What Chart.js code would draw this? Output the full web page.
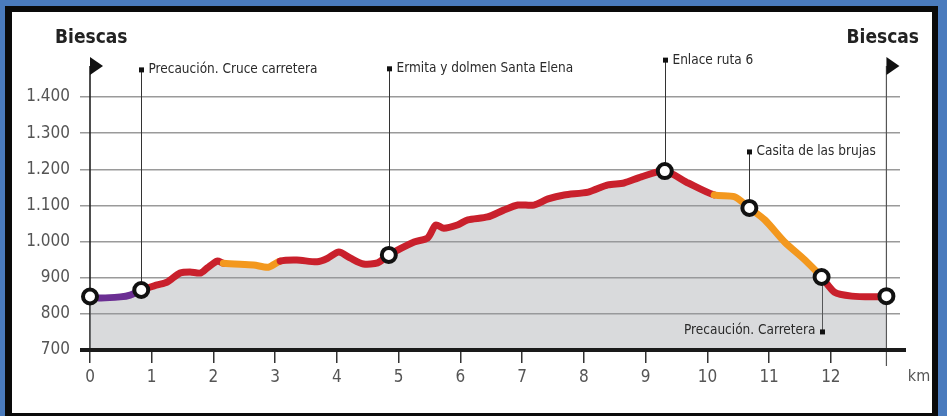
<!DOCTYPE html>
<html>
<head>
<meta charset="utf-8">
<script src="https://cdn.jsdelivr.net/npm/chart.js@4.4.1/dist/chart.umd.min.js"></script>
<style>
  html, body { margin:0; padding:0; width:947px; height:416px; overflow:hidden; background:#4a7bbd; }
  #frame { position:absolute; left:5px; top:6px; width:920px; height:401px; background:#fff;
           border-style:solid; border-color:#0a0a0a; border-width:6px 6px 3px 7px; }
  #c { position:absolute; left:0; top:0; }
</style>
</head>
<body>
<div id="frame"></div>
<canvas id="c" width="947" height="416"></canvas>
<script>
// ---- data ----
const kmValues = [0, 0.16, 0.49, 0.65, 0.83, 1.09, 1.25, 1.46, 1.62, 1.79, 1.9, 2.06, 2.16, 2.65, 2.89, 3.08,
  3.35, 3.68, 3.85, 4.03, 4.22, 4.43, 4.66, 4.84, 5.25, 5.47, 5.6, 5.73, 5.95, 6.12, 6.44, 6.7, 6.93, 7.19,
  7.42, 7.68, 8.07, 8.39, 8.65, 8.93, 9.31, 9.69, 10.11, 10.44, 10.68, 10.93, 11.25, 11.58, 11.85, 12.06,
  12.34, 12.66, 12.9];
const elevations = [848, 844, 847, 852, 866, 880, 888, 913, 916, 913, 927, 946, 940, 935, 929, 946,
  949, 944, 954, 971, 954, 938, 941, 963, 999, 1010, 1046, 1037, 1046, 1060, 1068, 1087, 1101, 1101,
  1118, 1129, 1137, 1157, 1162, 1179, 1195, 1162, 1129, 1124, 1093, 1060, 999, 949, 902, 860,
  849, 847, 849];
const sectionStartKm = [0, 0.83, 2.16, 3.08, 10.11, 11.85];
const sectionColors = ['#6b2f93', '#c9202c', '#f3981e', '#c9202c', '#f3981e', '#c9202c'];
const waypointKm = [0, 0.83, 4.84, 9.31, 10.68, 11.85, 12.9];
const waypointElev = [848, 866, 963, 1195, 1093, 902, 849];
const xTicks = [0,1,2,3,4,5,6,7,8,9,10,11,12];
const yTicks = [700, 800, 900, 1000, 1100, 1200, 1300, 1400];
const annotationKm = [0.83, 4.84, 9.31, 10.68, 11.85];
const annotationLabels = ['Precaución. Cruce carretera', 'Ermita y dolmen Santa Elena', 'Enlace ruta 6',
  'Casita de las brujas', 'Precaución. Carretera'];
const endLabels = ['Biescas', 'Biescas'];
const endKm = [0, 12.9];
const unitLabel = 'km';

// label placement (in elevation units so it follows the y scale)
const annotationLabelElev = [1475, 1478, 1502, 1248, 750];
const annotationBelow = [false, false, false, false, true];

const FONT = '"Liberation Sans Narrow", "DejaVu Sans Condensed", "Roboto Condensed", sans-serif';

function fmtThousands(v) {
  if (v >= 1000) return Math.floor(v / 1000) + '.' + String(v % 1000).padStart(3, '0');
  return String(v);
}
function sectionColor(x) {
  let c = sectionColors[0];
  for (let i = 0; i < sectionStartKm.length; i++) if (x >= sectionStartKm[i] - 1e-6) c = sectionColors[i];
  return c;
}

const profile = kmValues.map((k, i) => ({ x: k, y: elevations[i] }));
const waypoints = waypointKm.map((k, i) => ({ x: k, y: waypointElev[i] }));

const decor = {
  id: 'decor',
  beforeDatasetsDraw(chart) {
    const { ctx, scales: { x, y } } = chart;
    ctx.save();
    ctx.strokeStyle = '#222'; ctx.lineWidth = 1.6;
    ctx.beginPath(); ctx.moveTo(x.getPixelForValue(endKm[0]), y.getPixelForValue(1486));
    ctx.lineTo(x.getPixelForValue(endKm[0]), y.getPixelForValue(700)); ctx.stroke();
    ctx.strokeStyle = '#555'; ctx.lineWidth = 1.2;
    ctx.beginPath(); ctx.moveTo(x.getPixelForValue(endKm[1]), y.getPixelForValue(1486));
    ctx.lineTo(x.getPixelForValue(endKm[1]), y.getPixelForValue(700) + 16); ctx.stroke();
    ctx.strokeStyle = '#333'; ctx.lineWidth = 1;
    annotationKm.forEach((k, i) => {
      const px = Math.round(x.getPixelForValue(k)) + 0.5;
      const wi = waypointKm.indexOf(k);
      const ly = y.getPixelForValue(annotationLabelElev[i]);
      const my = y.getPixelForValue(waypointElev[wi]);
      ctx.beginPath(); ctx.moveTo(px, ly); ctx.lineTo(px, my); ctx.stroke();
    });
    ctx.restore();
  },
  afterDatasetsDraw(chart) {
    const { ctx, chartArea, scales: { y } } = chart;
    ctx.save();
    ctx.strokeStyle = '#1a1a1a'; ctx.lineWidth = 4;
    const by = y.getPixelForValue(700);
    ctx.beginPath(); ctx.moveTo(chartArea.left, by); ctx.lineTo(chartArea.right + 6, by); ctx.stroke();
    ctx.restore();
  },
  afterDraw(chart) {
    const { ctx, scales: { x, y } } = chart;
    ctx.save();
    ctx.font = '13.5px ' + FONT;
    ctx.textBaseline = 'middle';
    annotationKm.forEach((k, i) => {
      const px = Math.round(x.getPixelForValue(k)) + 0.5;
      const ly = y.getPixelForValue(annotationLabelElev[i]);
      ctx.fillStyle = '#111';
      ctx.fillRect(px - 2.5, ly - 2.5, 5, 5);
      ctx.fillStyle = '#2a2a2a';
      if (annotationBelow[i]) {
        ctx.textAlign = 'right';
        ctx.fillText(annotationLabels[i], px - 7, ly - 1);
      } else {
        ctx.textAlign = 'left';
        ctx.fillText(annotationLabels[i], px + 7, ly);
      }
    });
    ctx.fillStyle = '#111';
    endKm.forEach(k => {
      const px = x.getPixelForValue(k);
      const ty = y.getPixelForValue(1486);
      ctx.beginPath(); ctx.moveTo(px, ty - 9); ctx.lineTo(px + 13, ty); ctx.lineTo(px, ty + 9); ctx.closePath(); ctx.fill();
    });
    ctx.font = 'bold 19px ' + FONT;
    ctx.fillStyle = '#222';
    ctx.textBaseline = 'middle';
    const byy = y.getPixelForValue(1563);
    ctx.textAlign = 'left';
    ctx.fillText(endLabels[0], 55, byy);
    ctx.textAlign = 'right';
    ctx.fillText(endLabels[1], 919, byy);
    ctx.font = '16px ' + FONT;
    ctx.fillStyle = '#555';
    ctx.textAlign = 'center';
    ctx.fillText(unitLabel, 919, 377);
    ctx.restore();
  }
};

new Chart(document.getElementById('c'), {
  type: 'line',
  data: {
    datasets: [
      {
        data: waypoints, showLine: false, order: 0,
        pointRadius: 7, pointBorderWidth: 4, pointBorderColor: '#111', pointBackgroundColor: '#fff',
        pointHoverRadius: 7
      },
      {
        data: profile, order: 1, fill: false,
        borderWidth: 7, borderCapStyle: 'round', borderJoinStyle: 'round',
        tension: 0.25, pointRadius: 0,
        borderColor: '#c9202c',
        segment: { borderColor: ctx => sectionColor(ctx.p0.parsed.x) }
      },
      {
        data: profile, order: 2, borderWidth: 0, pointRadius: 0, tension: 0.25,
        borderColor: 'rgba(0,0,0,0)',
        fill: 'start', backgroundColor: 'rgba(150,152,157,0.36)'
      }
    ]
  },
  options: {
    responsive: false, devicePixelRatio: 1, animation: false,
    layout: { padding: { top: 97, left: 0, right: 47, bottom: 0 } },
    plugins: { legend: { display: false }, tooltip: { enabled: false } },
    scales: {
      x: {
        type: 'linear', min: -0.162, max: 13.12,
        afterBuildTicks: s => { s.ticks = xTicks.map(v => ({ value: v })); },
        afterFit: s => { s.height = 66; },
        grid: { drawOnChartArea: false, drawTicks: true, tickLength: 13, color: '#333', lineWidth: 1.5 },
        border: { display: false },
        ticks: { padding: 4, color: '#555', font: { family: FONT, size: 17 }, maxRotation: 0, autoSkip: false,
                 callback: v => String(v) }
      },
      y: {
        min: 700, max: 1400,
        afterBuildTicks: s => { s.ticks = yTicks.map(v => ({ value: v })); },
        afterFit: s => { s.width = 80; },
        grid: { drawTicks: false, color: '#9a9a9a', lineWidth: 1.5 },
        border: { display: false },
        ticks: { padding: 10, color: '#555', font: { family: FONT, size: 17 }, callback: v => fmtThousands(v) }
      }
    }
  },
  plugins: [decor]
});
</script>
</body>
</html>
